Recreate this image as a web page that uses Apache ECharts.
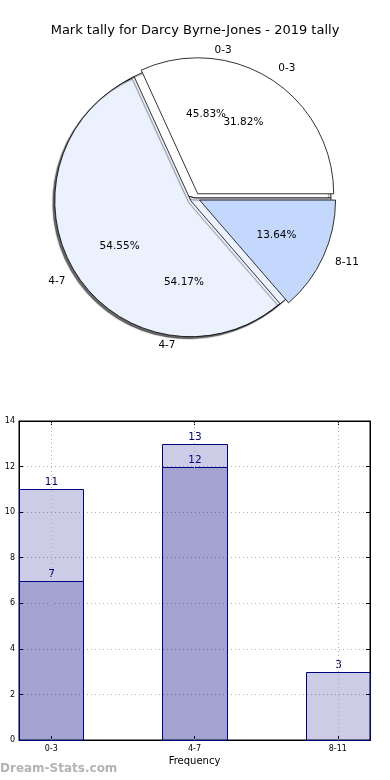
<!DOCTYPE html>
<html>
<head>
<meta charset="utf-8">
<script src="https://cdn.jsdelivr.net/npm/echarts@6/dist/echarts.min.js"></script>
<style>
  html, body { margin: 0; padding: 0; background: #fff; }
  #chart { width: 390px; height: 780px; }
</style>
</head>
<body>
<div id="chart"></div>
<script>
// ---- data ----
var title = 'Mark tally for Darcy Byrne-Jones - 2019 tally';
var pie1Categories = ['0-3', '4-7'];
var pie1Values = [11, 13];
var pie2Categories = ['0-3', '4-7', '8-11'];
var pie2Values = [7, 12, 3];
var barCategories = ['0-3', '4-7', '8-11'];
var barSeriesA = [11, 13];
var barSeriesB = [7, 12, 3];
var yTicks = [0, 2, 4, 6, 8, 10, 12, 14];
var xAxisName = 'Frequency';
var yAxisName = 'Distinct Marks';
var watermark = 'Dream-Stats.com';

// ---- styles ----
var FONT = 'DejaVu Sans';
var sliceColors = ['#ffffff', '#ebf1fe', '#c4d8fd'];
var R = 136;
var pieCenter = [195, 198];
var gridL = 19, gridR = 20, gridT = 421, gridB = 40;
var xMin = -0.225, xMax = 2.225, barW = 0.45;
var barFill = 'rgba(0,0,128,0.2)', barEdge = '#000080';

function pieData(cats, vals, shadowIdx) {
  return vals.map(function (v, i) {
    var st = { color: sliceColors[i] };
    if (i === shadowIdx) {
      st.shadowColor = 'rgba(0,0,0,0.6)'; st.shadowOffsetX = -2; st.shadowOffsetY = 2; st.shadowBlur = 1;
    }
    return { name: cats[i], value: v, itemStyle: st };
  });
}
function pctFmt(total) {
  return function (p) { return (p.value / total * 100).toFixed(2) + '%'; };
}
function sum(a) { return a.reduce(function (s, v) { return s + v; }, 0); }

function barRender(params, api) {
  var x = api.value(0), y = api.value(1);
  var p0 = api.coord([x - barW / 2, 0]);
  var p1 = api.coord([x + barW / 2, y]);
  var left = Math.round(p0[0]) + 0.5, right = Math.round(p1[0]) + 0.5;
  var top = Math.round(p1[1]) + 0.5, bottom = Math.round(p0[1]) + 0.5;
  return {
    type: 'group',
    children: [{
      type: 'rect',
      shape: { x: left, y: top, width: right - left, height: bottom - top },
      style: { fill: barFill, stroke: barEdge, lineWidth: 1 }
    }, {
      type: 'text', x: (left + right) / 2, y: top - 2,
      style: { text: String(y), textAlign: 'center', textVerticalAlign: 'bottom', fill: barEdge,
        fontFamily: FONT, fontSize: 10.5 }
    }]
  };
}

var chart = echarts.init(document.getElementById('chart'), null, { renderer: 'canvas' });

var outerLabel = { show: true, position: 'outside', color: '#000', fontFamily: FONT, fontSize: 10.5, distanceToLabelLine: 0 };
var labelLineHidden = { show: false, length: 13, length2: 0 };

var option = {
  animation: false,
  backgroundColor: '#fff',
  title: {
    text: title, left: 'center', top: 19,
    textStyle: { fontFamily: FONT, fontSize: 13, fontWeight: 'normal', color: '#000' }
  },
  graphic: [{
    type: 'text', left: 0, top: 763,
    style: { text: watermark, fontFamily: FONT, fontSize: 12, fontWeight: 'bold', fill: '#b3b3b3' }
  }],
  grid: { left: gridL, right: gridR, top: gridT, bottom: gridB, show: true, borderColor: '#000', borderWidth: 1,
    containLabel: false, outerBoundsMode: 'none' },
  xAxis: [{
    type: 'value', min: xMin, max: xMax,
    name: xAxisName, nameLocation: 'middle', nameGap: 16,
    nameTextStyle: { fontFamily: FONT, fontSize: 10, color: '#000' },
    axisLine: { show: true, onZero: false, lineStyle: { color: '#000' } },
    axisTick: { show: true, inside: true, length: 4, customValues: [0, 1, 2], lineStyle: { color: '#000' } },
    axisLabel: { show: true, customValues: [0, 1, 2], margin: 5, fontFamily: FONT, fontSize: 8, color: '#000',
      formatter: function (v) { return barCategories[Math.round(v)]; } },
    splitLine: { show: false }
  }, {
    type: 'value', min: xMin, max: xMax, position: 'top',
    axisLine: { show: true, onZero: false, lineStyle: { color: '#000' } },
    axisTick: { show: true, inside: true, length: 4, customValues: [0, 1, 2], lineStyle: { color: '#000' } },
    axisLabel: { show: false }, splitLine: { show: false }
  }],
  yAxis: [{
    type: 'value', min: yTicks[0], max: yTicks[yTicks.length - 1], interval: yTicks[1] - yTicks[0],
    name: yAxisName, nameLocation: 'middle', nameGap: 19, nameRotate: 90,
    nameTextStyle: { fontFamily: FONT, fontSize: 10, color: '#000' },
    axisLine: { show: true, onZero: false, lineStyle: { color: '#000' } },
    axisTick: { show: true, inside: true, length: 4, lineStyle: { color: '#000' } },
    axisLabel: { margin: 4, fontFamily: FONT, fontSize: 8, color: '#000' },
    splitLine: { show: true, lineStyle: { color: '#b0b0b0', type: [1, 3], width: 1 } }
  }, {
    type: 'value', min: yTicks[0], max: yTicks[yTicks.length - 1], interval: yTicks[1] - yTicks[0], position: 'right',
    axisLine: { show: true, onZero: false, lineStyle: { color: '#000' } },
    axisTick: { show: true, inside: true, length: 4, lineStyle: { color: '#000' } },
    axisLabel: { show: false }, splitLine: { show: false }
  }],
  series: [
    // pie 1 (bottom layer)
    {
      type: 'pie', center: pieCenter, radius: [0, R], startAngle: 0, clockwise: false,
      avoidLabelOverlap: false, silent: true, z: 1,
      itemStyle: { borderColor: '#000', borderWidth: 0.8, shadowColor: 'rgba(0,0,0,0.6)', shadowOffsetX: -2, shadowOffsetY: 2, shadowBlur: 1 },
      label: outerLabel, labelLine: labelLineHidden,
      data: pieData(pie1Categories, pie1Values, -1)
    },
    // pie 2 (top layer, exploded)
    {
      type: 'pie', center: pieCenter, radius: [0, R], startAngle: 0, clockwise: false,
      avoidLabelOverlap: false, silent: true, z: 2,
      selectedMode: 'multiple', selectedOffset: 5,
      itemStyle: { borderColor: '#000', borderWidth: 0.8 },
      label: outerLabel, labelLine: labelLineHidden,
      data: pieData(pie2Categories, pie2Values, 1).map(function (d) { d.selected = true; return d; })
    },
    // percentage labels (transparent rings, label at 0.6 R)
    {
      type: 'pie', center: pieCenter, radius: [R * 0.2, R], startAngle: 0, clockwise: false,
      avoidLabelOverlap: false, silent: true, z: 3,
      itemStyle: { color: 'rgba(0,0,0,0)', borderWidth: 0 },
      label: { show: true, position: 'inside', color: '#000', fontFamily: FONT, fontSize: 10.5, formatter: pctFmt(sum(pie1Values)) },
      labelLine: { show: false },
      data: pie1Values.map(function (v, i) { return { name: pie1Categories[i], value: v }; })
    },
    {
      type: 'pie', center: pieCenter, radius: [R * 0.2, R], startAngle: 0, clockwise: false,
      avoidLabelOverlap: false, silent: true, z: 3,
      selectedMode: 'multiple', selectedOffset: 5,
      itemStyle: { color: 'rgba(0,0,0,0)', borderWidth: 0 },
      label: { show: true, position: 'inside', color: '#000', fontFamily: FONT, fontSize: 10.5, formatter: pctFmt(sum(pie2Values)) },
      labelLine: { show: false },
      data: pie2Values.map(function (v, i) { return { name: pie2Categories[i], value: v, selected: true }; })
    },
    // bars (drawn through the axes' scales)
    {
      type: 'custom', xAxisIndex: 0, yAxisIndex: 0, renderItem: barRender, silent: true,
      data: barSeriesA.map(function (v, i) { return [i, v]; })
    },
    {
      type: 'custom', xAxisIndex: 0, yAxisIndex: 0, renderItem: barRender, silent: true,
      data: barSeriesB.map(function (v, i) { return [i, v]; }),
      markLine: {
        silent: true, symbol: 'none', label: { show: false }, z: 10,
        lineStyle: { color: '#b0b0b0', type: [1, 3], width: 1 },
        data: barCategories.map(function (c, i) { return { xAxis: i }; })
      }
    }
  ]
};
chart.setOption(option);
</script>
</body>
</html>
